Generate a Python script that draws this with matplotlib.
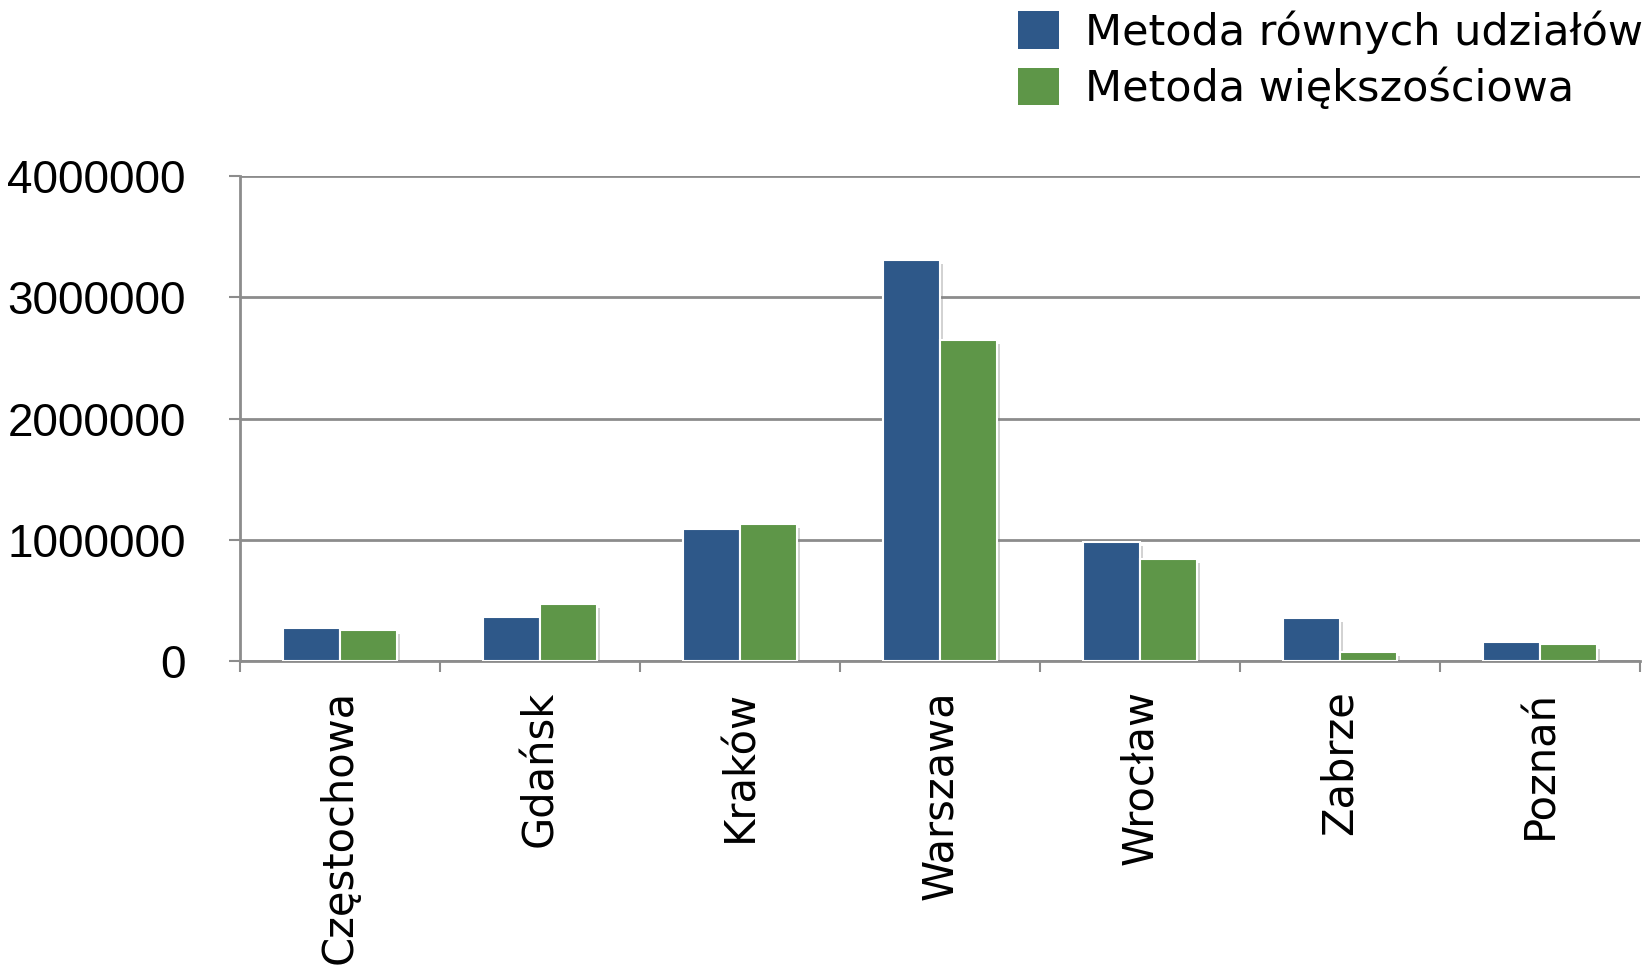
import matplotlib
matplotlib.use("Agg")
import matplotlib.pyplot as plt
import matplotlib.patheffects as pe
import numpy as np

# dane
miasta = ["Częstochowa", "Gdańsk", "Kraków", "Warszawa", "Wrocław", "Zabrze", "Poznań"]
rowne_udzialy = [275000, 363000, 1087000, 3308000, 979000, 358000, 159000]
wiekszosciowa = [255000, 474000, 1132000, 2647000, 845000, 74000, 137000]
serie = ["Metoda równych udziałów", "Metoda większościowa"]
yticks = [0, 1000000, 2000000, 3000000, 4000000]

kolor_nieb = "#2E5889"
kolor_ziel = "#5E9648"
szary = "#8C8C8C"

fig = plt.figure(figsize=(16.52, 9.69), dpi=100)
ax = fig.add_axes([240 / 1652, 1 - 661 / 969, 1400 / 1652, 485 / 969])

x = np.arange(len(miasta))
w = 0.285
cien = [pe.SimplePatchShadow(offset=(2, -3), shadow_rgbFace="gray", alpha=0.35), pe.Normal()]
b1 = ax.bar(x - w / 2, rowne_udzialy, w, color=kolor_nieb, edgecolor="white", linewidth=1.5,
            label=serie[0], zorder=3, path_effects=cien)
b2 = ax.bar(x + w / 2, wiekszosciowa, w, color=kolor_ziel, edgecolor="white", linewidth=1.5,
            label=serie[1], zorder=3, path_effects=cien)

ax.set_xlim(-0.5, len(miasta) - 0.5)
ax.set_ylim(0, 4000000)
ax.set_yticks(yticks)
ax.set_yticklabels([str(v) for v in yticks], family="Liberation Sans", fontsize=33)
ax.yaxis.grid(True, color=szary, linewidth=2, zorder=0)
ax.set_axisbelow(True)

# podzialki miedzy kategoriami
ax.set_xticks(np.arange(-0.5, len(miasta), 1.0))
ax.set_xticklabels([])
ax.set_xticks(x, minor=True)
ax.set_xticklabels(miasta, minor=True, rotation=90, fontsize=30, family="DejaVu Sans", va="top")
ax.tick_params(axis="x", which="minor", length=0, pad=21)
ax.tick_params(axis="x", which="major", length=8, width=1.5, color=szary)
ax.tick_params(axis="y", length=8, width=1.5, color=szary, pad=31)

for s in ["top", "right"]:
    ax.spines[s].set_visible(False)
for s in ["left", "bottom"]:
    ax.spines[s].set_color(szary)
    ax.spines[s].set_linewidth(2)

leg = fig.legend(handles=[b1, b2], labels=serie, loc="upper right",
                 bbox_to_anchor=(1647 / 1652, 1 - 6 / 969),
                 frameon=False, prop={"family": "DejaVu Sans", "size": 31},
                 handlelength=0.95, handleheight=0.95, handletextpad=0.6, labelspacing=0.32,
                 borderpad=0.1, borderaxespad=0)
for h in leg.legend_handles:
    h.set_path_effects([])
    h.set_edgecolor("none")

fig.savefig("out.png", dpi=100)
